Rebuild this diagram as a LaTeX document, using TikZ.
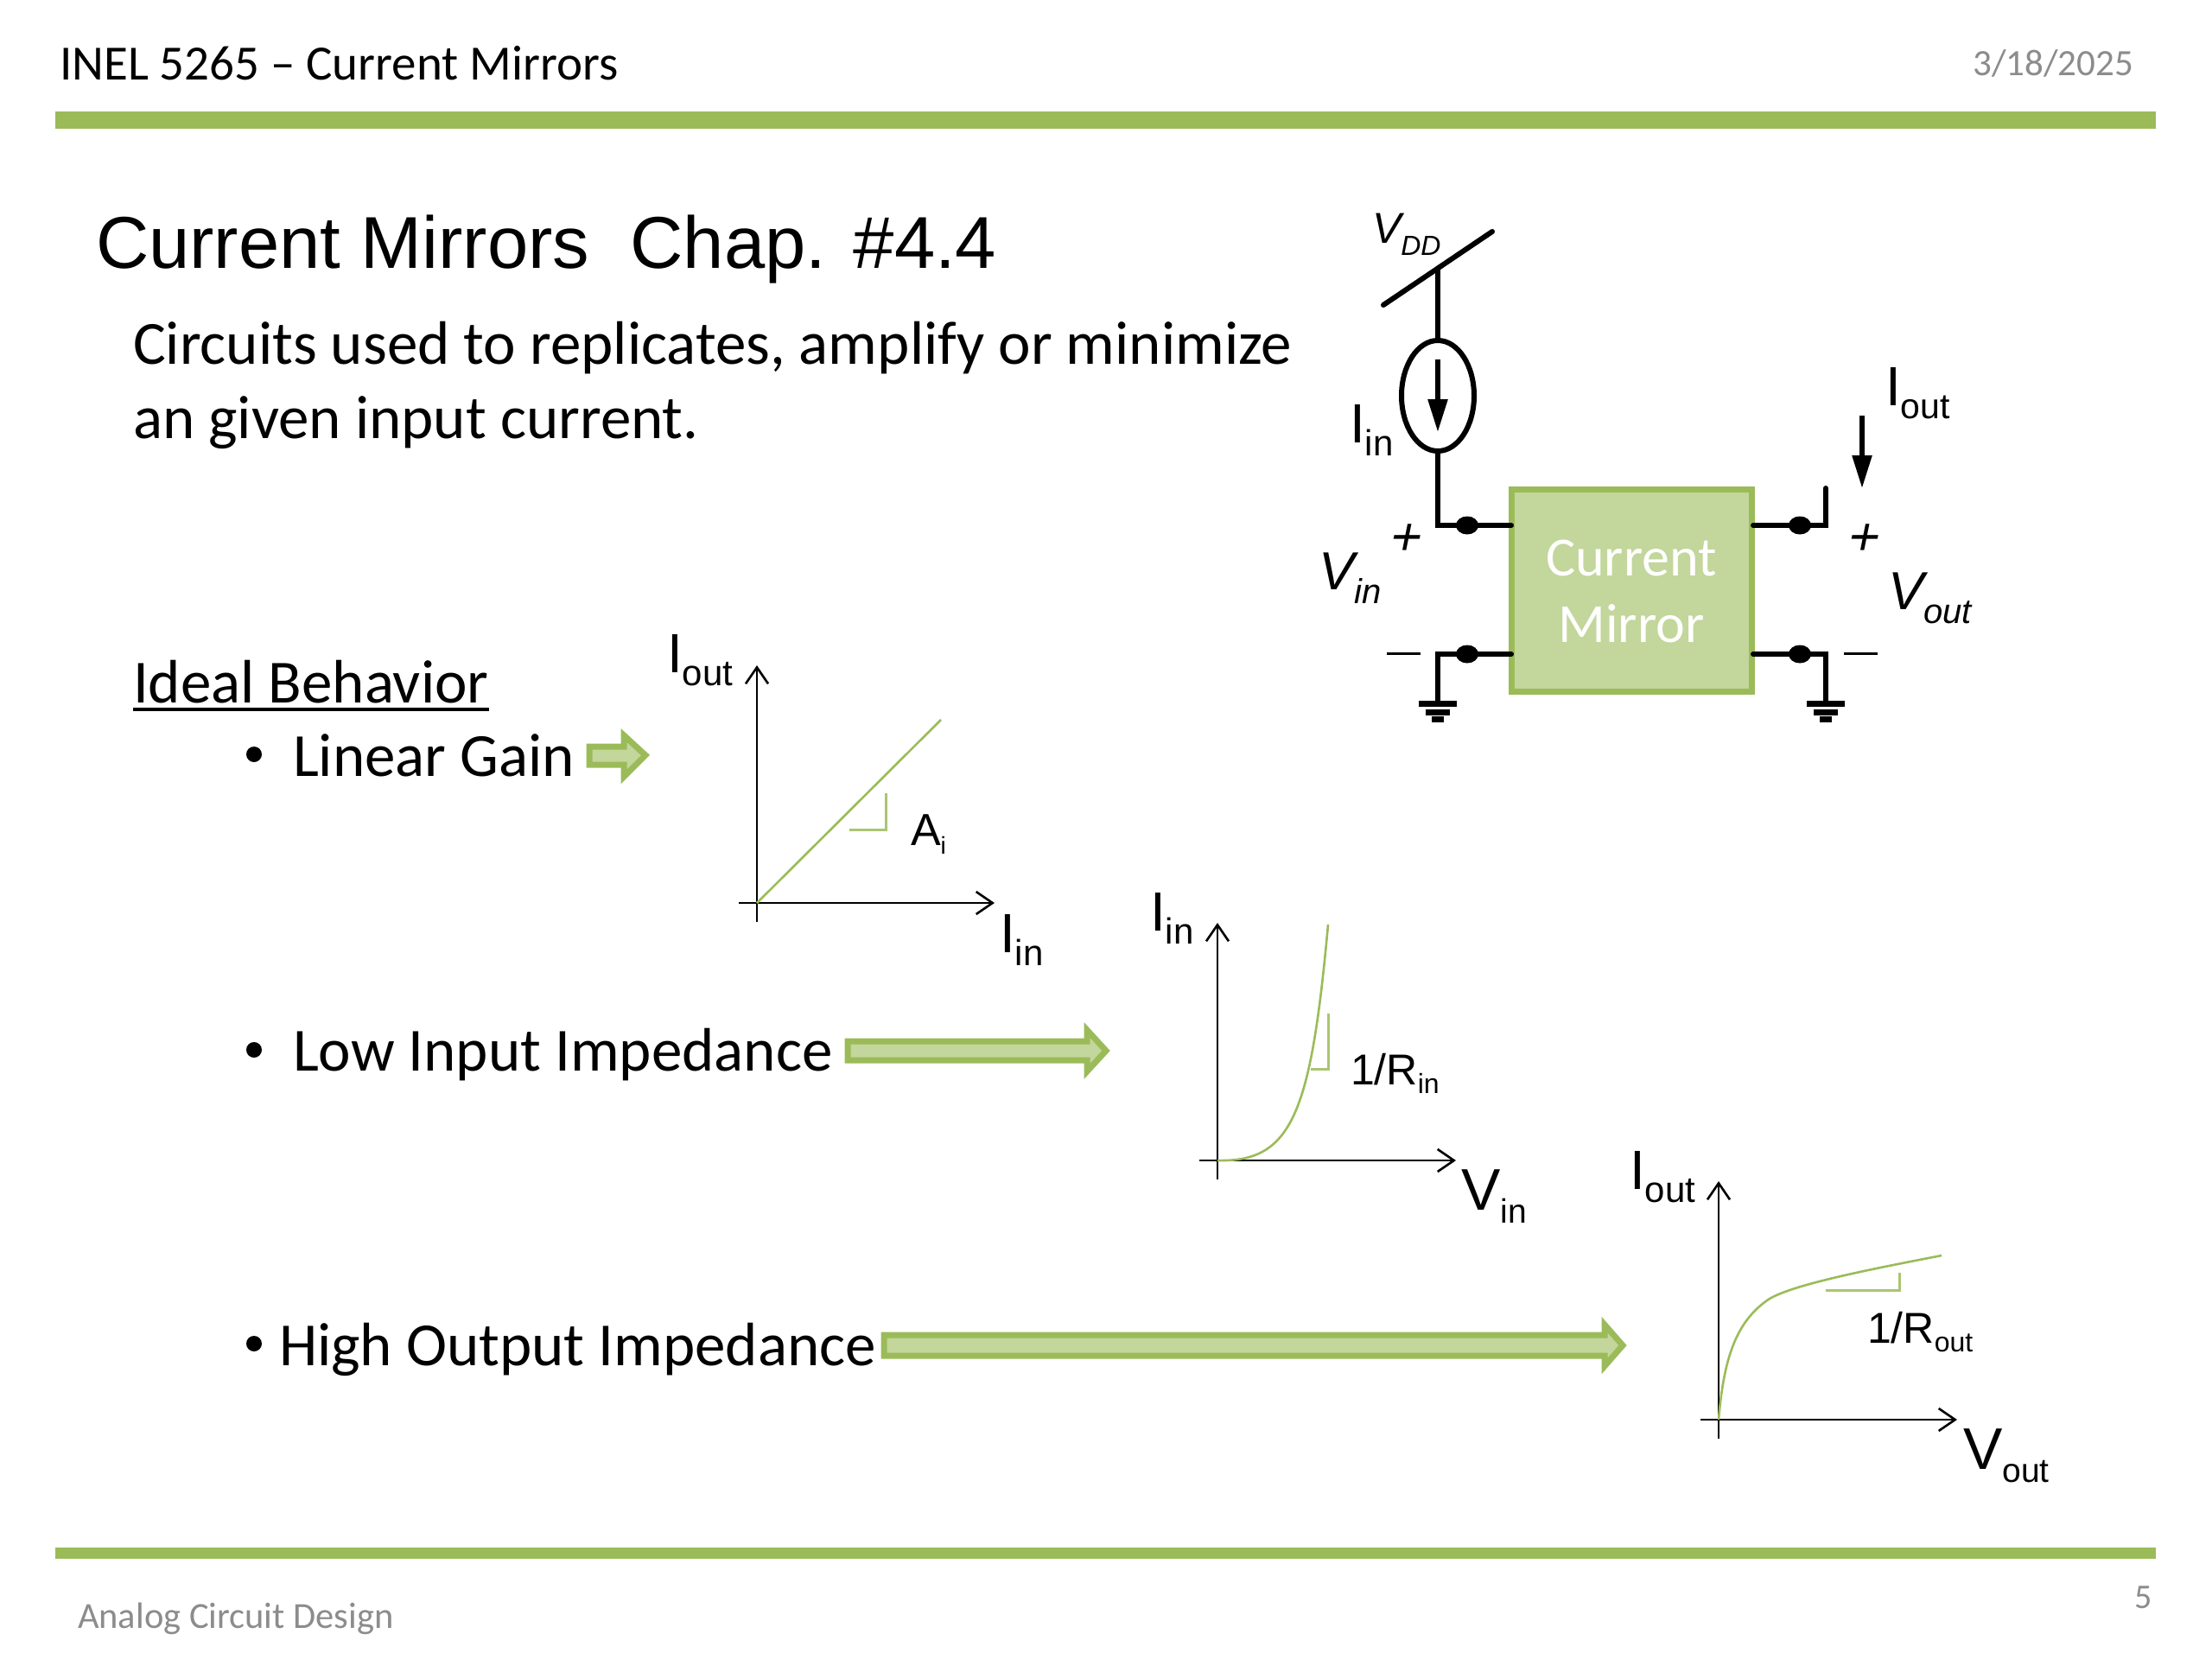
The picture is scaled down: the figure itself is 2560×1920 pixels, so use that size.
\documentclass[tikz,border=0pt]{standalone}
\usepackage{fontspec}
\setmainfont{Carlito}
\newfontfamily\arial{Liberation Sans}
\newfontfamily\slantsign[FakeSlant=0.2]{Liberation Sans}
\usetikzlibrary{arrows.meta,shapes.geometric}
\definecolor{accent}{HTML}{9BBB59}
\definecolor{accentlight}{HTML}{C3D69B}
\definecolor{greytext}{HTML}{8C8C8C}
\newcommand{\fsz}[1]{\fontsize{#1}{#1}\selectfont}
\newcommand{\SUB}[5]{{\arial\fsz{#1}#2\raisebox{-#3pt}{\fsz{#4}#5}}}
\newcommand{\ISUB}[5]{{\arial\itshape\fsz{#1}#2\raisebox{-#3pt}{\fsz{#4}#5}}}
\tikzset{
  txt/.style={anchor=base west,inner sep=0pt,outer sep=0pt},
  txtr/.style={anchor=base east,inner sep=0pt,outer sep=0pt},
  bar/.style={fill=accent,draw=none},
  wire/.style={line width=6pt,black,line cap=round,line join=miter},
  gnd/.style={line width=7pt,black},
  dotn/.style={ellipse,fill=black,inner sep=0pt,minimum width=26pt,minimum height=21pt,outer sep=0pt},
  bullet/.style={circle,fill=black,inner sep=0pt,minimum size=18pt},
  axis/.style={line width=2.6pt,black,-{Straight Barb[length=19pt,width=26pt,line width=2.6pt]}},
  curveg/.style={line width=2.6pt,accent},
  slopeg/.style={line width=3pt,accent!85!white},
  fatarrow/.style={fill=accentlight,draw=accent,line width=7pt,line join=miter},
  solidarrow/.style={line width=5.5pt,black,-{Triangle[length=38pt,width=22pt]}},
}
\begin{document}
\begin{tikzpicture}[x=1pt,y=-1pt]
\useasboundingbox (0,0) rectangle (2560,1920);
\fill[white] (0,0) rectangle (2560,1920);
% header and footer
\node[txt] (hdr) at (69,92) {\fsz{57}INEL 5265 – Current Mirrors};
\node[txtr,text=greytext] (date) at (2469,87) {\fsz{43}3/18/2025};
\path[bar] (64,129) rectangle (2495,149);
\path[bar] (64,1791) rectangle (2495,1804);
\node[txt,text=greytext] (foot) at (90,1884) {\fsz{42.5}Analog Circuit Design};
\node[txtr,text=greytext] (num) at (2491,1861) {\fsz{40}5};
% title and body
\node[txt] (title) at (111,310) {\arial\fsz{85}Current Mirrors\ \ Chap. \#4.4};
\node[txt] (l1) at (154,421) {\fsz{71}Circuits used to replicates, amplify or minimize};
\node[txt] (l2) at (154,507) {\fsz{71}an given input current.};
\node[txt] (ideal) at (154,813) {\fsz{71}Ideal Behavior};
\draw[line width=4pt] (ideal.base west)++(0,8) -- ([yshift=-8pt]ideal.base east);
\node[bullet] (b1) at (294,873) {};
\node[bullet] (b2) at (294,1215) {};
\node[bullet] (b3) at (294,1555) {};
\node[txt] (t1) at (339,898) {\fsz{71}Linear Gain};
\node[txt] (t2) at (339,1239) {\fsz{71}Low Input Impedance};
\node[txt] (t3) at (323,1580) {\fsz{71}High Output Impedance};
% fat arrows
\path[fatarrow] (682,864) -- (722,864) -- (722,851) -- (747,874) -- (722,899) -- (722,885) -- (682,885) -- cycle;
\path[fatarrow] (981,1205) -- (1258,1205) -- (1258,1192) -- (1280,1216) -- (1258,1240) -- (1258,1227) -- (981,1227) -- cycle;
\path[fatarrow] (1023,1545) -- (1857,1545) -- (1857,1533) -- (1878,1557) -- (1857,1581) -- (1857,1569) -- (1023,1569) -- cycle;
% circuit
\node[draw=accent,fill=accentlight,line width=7pt,minimum width=278pt,minimum height=234pt,inner sep=0pt,outer sep=0pt] (cm) at (1888,683) {};
\node[text=white,anchor=base,inner sep=0pt] (cm1) at (1888,666) {\fsz{64}Current};
\node[text=white,anchor=base,inner sep=0pt] (cm2) at (1888,743) {\fsz{64}Mirror};
\node[ellipse,draw=black,line width=6pt,minimum width=84pt,minimum height=128pt,inner sep=0pt,outer sep=2pt] (src) at (1664,458) {};
\coordinate (vl) at (1601,353);
\coordinate (vr) at (1727,268);
\coordinate (vt) at (1664,311);
\coordinate (cl) at (1664,608);
\coordinate (cr) at (2113,608);
\coordinate (crt) at (2113,565);
\coordinate (gl) at (1664,757);
\coordinate (gr) at (2113,757);
\coordinate (gle) at (1664,814);
\coordinate (gre) at (2113,814);
\coordinate (ms) at (1749,608);
\coordinate (mt) at (2029,608);
\coordinate (mbs) at (1749,757);
\coordinate (mbt) at (2029,757);
\node[dotn] (d1) at (1698,608) {};
\node[dotn] (d2) at (2083,608) {};
\node[dotn] (d3) at (1698,757) {};
\node[dotn] (d4) at (2083,757) {};
\draw[wire] (vl) -- (vr);
\draw[wire] (vt) -- (src.north);
\draw[wire] (src.south) -- (cl) -- (ms);
\draw[wire] (crt) -- (cr) -- (mt);
\draw[wire] (mbs) -- (gl) -- (gle);
\draw[wire] (mbt) -- (gr) -- (gre);
\foreach \g in {gle,gre}{
  \draw[gnd] ([xshift=-22pt]\g) -- ([xshift=22pt]\g);
  \draw[gnd] ([xshift=-14pt,yshift=-10pt]\g) -- ([xshift=14pt,yshift=-10pt]\g);
  \draw[gnd] ([xshift=-7pt,yshift=-18pt]\g) -- ([xshift=7pt,yshift=-18pt]\g);
}
\coordinate (ia) at (1664,416);
\coordinate (ib) at (1664,500);
\draw[solidarrow] (ia) -- (ib);
\coordinate (oa) at (2155,481);
\coordinate (ob) at (2155,565);
\draw[solidarrow] (oa) -- (ob);
\node[txt] (vdd) at (1588,281) {\ISUB{50}{V}{14}{32}{DD}};
\node[txt] (iin) at (1562,512) {\SUB{64}{I}{15}{42}{in}};
\node[txt] (iout) at (2182,469) {\SUB{64}{I}{15}{41}{out}};
\node[txt] (vin) at (1526,682) {\ISUB{62}{V}{16}{40}{in}};
\node[txt] (vout) at (2185,705) {\ISUB{62}{V}{16}{40}{out}};
\node[anchor=center,inner sep=0pt] (pl) at (1625,625) {\slantsign\fsz{62}+};
\node[anchor=center,inner sep=0pt] (pr) at (2155,625) {\slantsign\fsz{62}+};
\coordinate (mla) at (1605,756); \coordinate (mlb) at (1644,756);
\coordinate (mra) at (2134,756); \coordinate (mrb) at (2173,756);
\draw[line width=3pt] (mla) -- (mlb);
\draw[line width=3pt] (mra) -- (mrb);
% graph 1
\coordinate (o1) at (876,1045);
\coordinate (y1a) at (876,1067); \coordinate (y1b) at (876,770);
\coordinate (x1a) at (855,1045); \coordinate (x1b) at (1151,1045);
\draw[axis] (y1a) -- (y1b);
\draw[axis] (x1a) -- (x1b);
\coordinate (g1e) at (1089,833);
\draw[curveg] (o1) -- (g1e);
\coordinate (s1a) at (983,960); \coordinate (s1b) at (1025,960); \coordinate (s1c) at (1025,918);
\draw[slopeg] (s1a) -- (s1b) -- (s1c);
\node[txt] (g1y) at (772,778) {\SUB{64}{I}{15}{42}{out}};
\node[txt] (g1x) at (1157,1102) {\SUB{64}{I}{15}{42}{in}};
\node[txt] (g1s) at (1054,978) {\SUB{52}{A}{10}{28}{i}};
% graph 2
\coordinate (o2) at (1409,1343);
\coordinate (y2a) at (1409,1365); \coordinate (y2b) at (1409,1068);
\coordinate (x2a) at (1388,1343); \coordinate (x2b) at (1685,1343);
\draw[axis] (y2a) -- (y2b);
\draw[axis] (x2a) -- (x2b);
\coordinate (g2e) at (1537,1070);
\draw[curveg] (o2) .. controls (1495,1345) and (1517,1290) .. (g2e);
\coordinate (s2a) at (1517,1237); \coordinate (s2b) at (1537,1237); \coordinate (s2c) at (1537,1173);
\draw[slopeg] (s2a) -- (s2b) -- (s2c);
\node[txt] (g2y) at (1331,1077) {\SUB{64}{I}{15}{42}{in}};
\node[txt] (g2x) at (1691,1400) {\SUB{68}{V}{15}{39}{in}};
\node[txt] (g2s) at (1563,1255) {\SUB{50}{1/R}{10}{32}{in}};
% graph 3
\coordinate (o3) at (1989,1643);
\coordinate (y3a) at (1989,1665); \coordinate (y3b) at (1989,1367);
\coordinate (x3a) at (1968,1643); \coordinate (x3b) at (2265,1643);
\draw[axis] (y3a) -- (y3b);
\draw[axis] (x3a) -- (x3b);
\coordinate (g3e) at (2247,1453);
\draw[curveg] (o3) .. controls (1995,1570) and (2010,1530) .. (2045,1505) .. controls (2070,1487) and (2170,1468) .. (g3e);
\coordinate (s3a) at (2113,1493); \coordinate (s3b) at (2198,1493); \coordinate (s3c) at (2198,1473);
\draw[slopeg] (s3a) -- (s3b) -- (s3c);
\node[txt] (g3y) at (1886,1376) {\SUB{64}{I}{15}{42}{out}};
\node[txt] (g3x) at (2272,1700) {\SUB{68}{V}{15}{39}{out}};
\node[txt] (g3s) at (2161,1554) {\SUB{50}{1/R}{10}{32}{out}};
\end{tikzpicture}
\end{document}
